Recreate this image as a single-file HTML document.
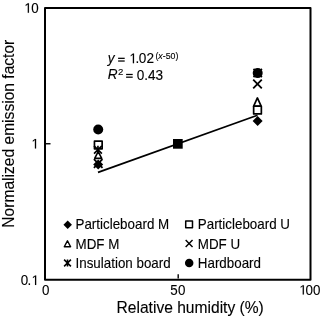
<!DOCTYPE html>
<html><head><meta charset="utf-8">
<style>
html,body{margin:0;padding:0;background:#fff;}
svg{display:block;will-change:transform;}
text{font-family:"Liberation Sans",sans-serif;fill:#000;stroke:#000;stroke-width:0.12px;}
.g{fill:#000;stroke:#000;stroke-width:0.12px;vector-effect:non-scaling-stroke;}
</style></head>
<body>
<svg width="322" height="317" viewBox="0 0 322 317">
<defs>
  <g id="dia"><path d="M0,-5 L5,0 L0,5 L-5,0 Z" fill="#000"/></g>
  <g id="sq"><rect x="-3.85" y="-3.85" width="7.7" height="7.7" fill="none" stroke="#000" stroke-width="1.7" stroke-linejoin="round"/></g>
  <g id="tri"><path d="M0,-3.9 L3.7,3.1 L-3.7,3.1 Z" fill="none" stroke="#000" stroke-width="1.7" stroke-linejoin="round"/></g>
  <g id="trid"><path d="M0,-5.2 L3.75,3.1 L-3.75,3.1 Z" fill="none" stroke="#000" stroke-width="1.7" stroke-linejoin="round"/></g>
  <g id="xx"><path d="M-4.3,-4.3 L4.3,4.3 M-4.3,4.3 L4.3,-4.3" stroke="#000" stroke-width="1.8" fill="none"/></g>
  <g id="ast"><path d="M-3.4,-3.4 L3.4,3.4 M-3.4,3.4 L3.4,-3.4 M0,-3.5 L0,3.5" stroke="#000" stroke-width="1.55" fill="none"/></g>
  <g id="astd"><path d="M-4.2,-4.2 L4.2,4.2 M-4.2,4.2 L4.2,-4.2 M0,-4.2 L0,4.2" stroke="#000" stroke-width="1.8" fill="none"/></g>
  <g id="cir"><circle r="5" fill="#000"/></g>
</defs>

<rect x="45" y="8" width="265.5" height="271.8" fill="none" stroke="#000" stroke-width="2" stroke-linejoin="round"/>
<line x1="46" y1="143.75" x2="50.5" y2="143.75" stroke="#000" stroke-width="1.4"/>
<line x1="178.2" y1="278.5" x2="178.2" y2="274.3" stroke="#000" stroke-width="1.4"/>

<path class="g" d="M515,0 L515,1237 L197,1010 L197,1180 L530,1409 L696,1409 L696,0 Z" transform="translate(24.39,12.7) scale(0.006543,-0.006707)"/>
<text x="31.37" y="12.7" font-size="13.4" transform="matrix(1,0,0,1.025,0,-0.317)">0</text>
<path class="g" d="M515,0 L515,1237 L197,1010 L197,1180 L530,1409 L696,1409 L696,0 Z" transform="translate(31.54,148.4) scale(0.006543,-0.006707)"/>
<path class="g" d="M515,0 L515,1237 L197,1010 L197,1180 L530,1409 L696,1409 L696,0 Z" transform="translate(31.64,284.9) scale(0.006543,-0.006707)"/>
<text x="20.67 27.44" y="284.9" font-size="13.4" transform="matrix(1,0,0,1.025,0,-7.122)">0.</text>
<text x="42.12" y="294.6" font-size="13.4" transform="matrix(1,0,0,1.025,0,-7.365)">0</text>
<text x="170.29 177.92" y="294.8" font-size="13.4" transform="matrix(1,0,0,1.025,0,-7.370)">50</text>
<path class="g" d="M515,0 L515,1237 L197,1010 L197,1180 L530,1409 L696,1409 L696,0 Z" transform="translate(299.34,294.6) scale(0.006543,-0.006707)"/>
<text x="305.57 313.07" y="294.6" font-size="13.4" transform="matrix(1,0,0,1.025,0,-7.365)">00</text>
<path class="g" d="M515,0 L515,1237 L197,1010 L197,1180 L530,1409 L696,1409 L696,0 Z" transform="translate(129.43,63.2) scale(0.006641,-0.006807)"/>
<text x="135.51 138.87 146.57" y="63.2" font-size="13.6" transform="matrix(1,0,0,1.025,0,-1.580)">.02</text>

<text x="190.2" y="312.6" font-size="15.6" text-anchor="middle" transform="matrix(1,0,0,1.025,0,-7.815)">Relative humidity (%)</text>
<text transform="translate(13.7,133.7) rotate(-90) scale(1,1.025)" font-size="15.6" text-anchor="middle">Normalized emission factor</text>

<line x1="98" y1="172.4" x2="257.5" y2="115.3" stroke="#000" stroke-width="1.7"/>

<use href="#xx" x="98.2" y="163.5"/>
<use href="#dia" x="98.2" y="164.5"/>
<g transform="translate(98.2,155.4) scale(0.95)"><use href="#tri"/></g>
<g transform="translate(97.95,149.7) scale(0.93)"><use href="#astd"/></g>
<use href="#sq" x="98.3" y="145"/>
<use href="#cir" x="98.2" y="129.5"/>

<rect x="173" y="139" width="9.7" height="9.7" fill="#000"/>

<use href="#dia" x="257.6" y="120.9"/>
<use href="#sq" x="257.5" y="110.1"/>
<use href="#trid" x="257.4" y="103.1"/>
<use href="#xx" x="257.5" y="84"/>
<use href="#astd" x="257.7" y="73"/>
<use href="#cir" x="257.7" y="73.1"/>

<text x="107.8" y="63.2" font-size="13.6" transform="matrix(1,0,0,1.025,0,-1.580)" font-style="italic">y</text>
<rect x="118.1" y="57.7" width="6.6" height="1.25"/><rect x="118.1" y="60.4" width="6.6" height="1.25"/>
<text x="155.4" y="59.0" font-size="8.8" transform="matrix(1,0,0,1.025,0,-1.475)">(<tspan font-style="italic">x</tspan>-50)</text>
<text x="107.8" y="79.3" font-size="13.6" transform="matrix(1,0,0,1.025,0,-1.982)" font-style="italic">R</text>
<text x="118.0" y="74.6" font-size="9.6" transform="matrix(1,0,0,1.025,0,-1.865)">2</text>
<rect x="126.1" y="73.85" width="6.6" height="1.25"/><rect x="126.1" y="76.55" width="6.6" height="1.25"/>
<text x="136.7" y="79.8" font-size="13.6" transform="matrix(1,0,0,1.025,0,-1.995)">0.43</text>

<g transform="translate(67.7,224.7) scale(0.85)"><use href="#dia"/></g>
<text x="75.5" y="229" font-size="13.4" transform="matrix(1,0,0,1.025,0,-5.725)">Particleboard M</text>
<g transform="translate(67.45,244.1) scale(0.85)"><use href="#tri"/></g>
<text x="75.5" y="248.9" font-size="13.4" transform="matrix(1,0,0,1.025,0,-6.222)">MDF M</text>
<g transform="translate(67.5,263) scale(1)"><use href="#ast"/></g>
<text x="75.5" y="267.7" font-size="13.4" transform="matrix(1,0,0,1.025,0,-6.692)">Insulation board</text>
<g transform="translate(189.1,224.4) scale(0.88)"><use href="#sq"/></g>
<text x="197.8" y="229" font-size="13.4" transform="matrix(1,0,0,1.025,0,-5.725)">Particleboard U</text>
<g transform="translate(189.1,243.5) scale(0.8)"><use href="#xx"/></g>
<text x="197.8" y="248.9" font-size="13.4" transform="matrix(1,0,0,1.025,0,-6.222)">MDF U</text>
<g transform="translate(189.2,263) scale(0.85)"><use href="#cir"/></g>
<text x="197.8" y="267.7" font-size="13.4" transform="matrix(1,0,0,1.025,0,-6.692)">Hardboard</text>
</svg>
</body></html>
